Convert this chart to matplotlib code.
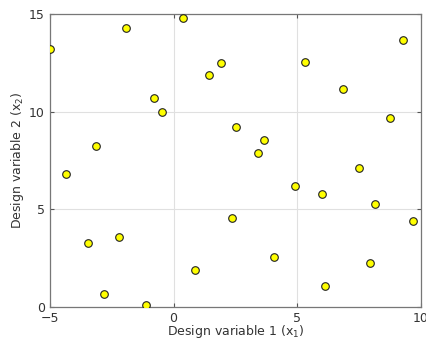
import matplotlib
matplotlib.use("Agg")
import matplotlib.pyplot as plt

# design points (x1, x2)
x1 = [-5.0, -1.91, 0.37, -0.77, -0.45, -3.13, -4.35, -3.46, -2.2, -2.8,
      -1.1, 0.85, 1.42, 1.91, 2.52, 3.66, 3.41, 2.36, 4.07, 4.9,
      5.33, 6.02, 6.14, 6.87, 7.48, 7.93, 8.13, 8.74, 9.27, 9.67]
x2 = [13.2, 14.29, 14.8, 10.7, 9.98, 8.24, 6.81, 3.28, 3.58, 0.67,
      0.1, 1.9, 11.88, 12.49, 9.22, 8.55, 7.89, 4.56, 2.56, 6.17,
      12.54, 5.79, 1.08, 11.16, 7.12, 2.25, 5.27, 9.68, 13.67, 4.4]

xticks = [-5, 0, 5, 10]
yticks = [0, 5, 10, 15]

fig = plt.figure(figsize=(4.26, 3.41), dpi=100)
ax = fig.add_axes([0.117, 0.1, 0.871, 0.859])

ax.scatter(x1, x2, s=30, c="#ffff00", edgecolors="#222222", linewidths=0.8, zorder=3)

ax.set_xlim(-5, 10)
ax.set_ylim(0, 15)
ax.set_xticks(xticks)
ax.set_yticks(yticks)
ax.grid(True, color="#e0e0e0", linewidth=0.8)
ax.set_axisbelow(True)
ax.tick_params(direction="in", length=3, colors="#555555", labelsize=9,
               top=True, right=True, labelcolor="#333333")
for s in ax.spines.values():
    s.set_color("#777777")
    s.set_linewidth(0.9)

ax.set_xlabel("Design variable 1 (x$_1$)", fontsize=9, color="#333333", labelpad=-1)
ax.set_ylabel("Design variable 2 (x$_2$)", fontsize=9, color="#333333", labelpad=2)

fig.savefig("out.png", dpi=100)
